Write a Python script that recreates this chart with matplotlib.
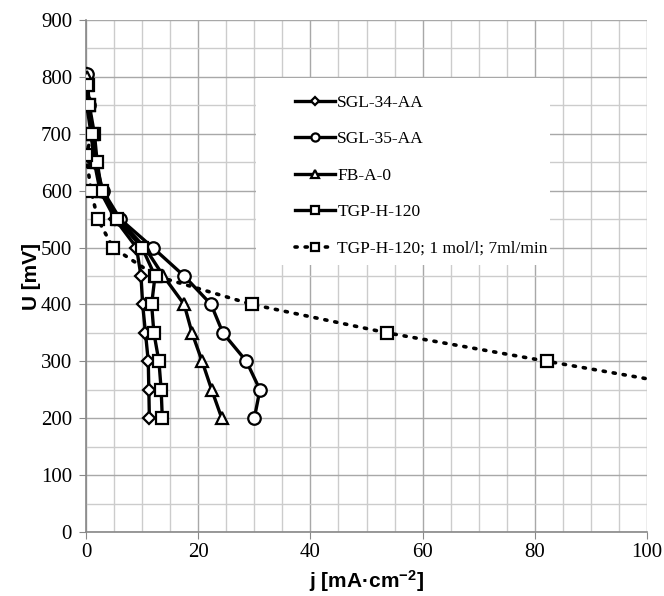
import matplotlib
matplotlib.use("Agg")
import matplotlib.pyplot as plt
from matplotlib.ticker import MultipleLocator
from matplotlib.patches import Rectangle

plt.rcParams["mathtext.fontset"] = "custom"
plt.rcParams["mathtext.rm"] = "Liberation Sans:bold"
plt.rcParams["mathtext.bf"] = "Liberation Sans:bold"
plt.rcParams["mathtext.default"] = "rm"

U_main = [805, 760, 700, 650, 600, 550, 500, 450, 400, 350, 300, 250, 200]
j_sgl34 = [0.1, 0.0, 0.9, 1.5, 2.5, 5.2, 9.0, 9.8, 10.1, 10.6, 11.1, 11.2, 11.3]

U_sgl35 = [805, 750, 700, 650, 600, 550, 500, 450, 400, 350, 300, 250, 200]
j_sgl35 = [0.2, 0.5, 1.2, 1.7, 3.0, 6.1, 11.9, 17.5, 22.3, 24.4, 28.6, 31.0, 30.0]

U_fb = [800, 750, 700, 650, 600, 550, 500, 450, 400, 350, 300, 250, 200]
j_fb = [0.1, 0.4, 1.0, 1.6, 2.7, 5.8, 10.5, 13.8, 17.5, 18.9, 20.7, 22.4, 24.2]

U_tgp = [785, 750, 700, 650, 600, 550, 500, 450, 400, 350, 300, 250, 200]
j_tgp = [0.3, 0.6, 1.5, 2.0, 2.8, 5.5, 10.0, 12.3, 11.7, 12.1, 13.0, 13.4, 13.6]

U_tgp2 = [785, 750, 700, 663, 600, 550, 500, 450, 400, 350, 300, 240]
j_tgp2 = [0.2, 0.6, 1.1, 0.0, 0.9, 2.1, 4.8, 12.5, 29.6, 53.7, 82.2, 117.0]

labels = ["SGL-34-AA", "SGL-35-AA", "FB-A-0", "TGP-H-120",
          "TGP-H-120; 1 mol/l; 7ml/min"]

fig = plt.figure(figsize=(6.64, 5.96), dpi=100)
ax = fig.add_axes([0.1295, 0.1074, 0.845, 0.859])

mk = dict(markerfacecolor="white", markeredgecolor="black", markeredgewidth=1.6)
ax.plot(j_sgl34, U_main, color="black", lw=2.4, marker="D", ms=6, label=labels[0], **mk, zorder=5)
ax.plot(j_sgl35, U_sgl35, color="black", lw=2.4, marker="o", ms=9, label=labels[1], **mk, zorder=5)
ax.plot(j_fb, U_fb, color="black", lw=2.4, marker="^", ms=8.5, label=labels[2], **mk, zorder=5)
ax.plot(j_tgp, U_tgp, color="black", lw=2.4, marker="s", ms=9, label=labels[3], **mk, zorder=5)
ax.plot(j_tgp2, U_tgp2, color="black", lw=2.6, ls=(0, (0.6, 2.2)), dash_capstyle="round",
        marker="s", ms=9, label=labels[4], **mk, zorder=6)

ax.set_xlim(0, 100)
ax.set_ylim(0, 900)
ax.xaxis.set_major_locator(MultipleLocator(20))
ax.xaxis.set_minor_locator(MultipleLocator(5))
ax.yaxis.set_major_locator(MultipleLocator(100))
ax.yaxis.set_minor_locator(MultipleLocator(50))
ax.grid(which="major", color="#a8a8a8", lw=1.0)
ax.grid(which="minor", color="#cccccc", lw=1.0)
ax.set_axisbelow(True)
for s in ["top", "right"]:
    ax.spines[s].set_visible(False)
for s in ["left", "bottom"]:
    ax.spines[s].set_color("#888888")
    ax.spines[s].set_linewidth(1.2)
ax.tick_params(which="major", direction="out", length=5, color="#888888",
               labelsize=15, pad=3)
ax.tick_params(axis="y", which="major", pad=5)
ax.tick_params(which="minor", length=0)
for lab in ax.get_xticklabels() + ax.get_yticklabels():
    lab.set_fontfamily("Liberation Serif")

ax.set_xlabel("j [mA·cm$^{-2}$]", fontsize=15, fontweight="bold",
              fontfamily="Liberation Sans", labelpad=4)
ax.set_ylabel("U [mV]", fontsize=15, fontweight="bold",
              fontfamily="Liberation Sans", labelpad=0)

# white legend background area
ax.add_patch(Rectangle((0.303, 0.5215), 0.524, 0.3655, transform=ax.transAxes,
                       facecolor="white", edgecolor="none", zorder=1))

leg = ax.legend(loc="upper left", bbox_to_anchor=(0.372, 0.854), frameon=False,
                prop={"family": "Liberation Serif", "size": 12.5},
                handlelength=2.3, handletextpad=0.15, labelspacing=1.17,
                borderpad=0, borderaxespad=0, markerscale=0.65)
leg.set_zorder(4)

fig.savefig("out.png", dpi=100)
